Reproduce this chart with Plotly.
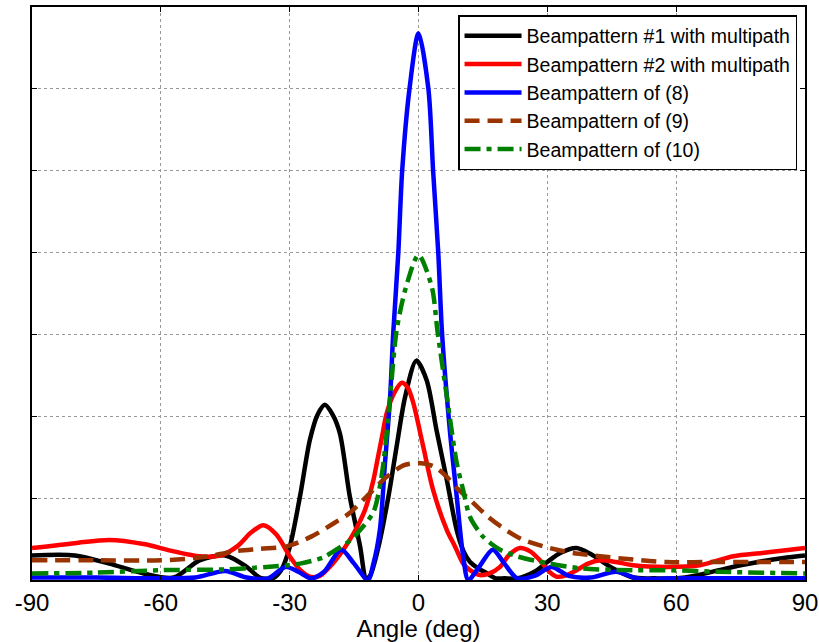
import plotly.graph_objects as go

# ---- data ----
x_bp1 = [-90, -80, -72, -64, -57, -51, -45, -40, -37, -34, -32, -30, -27.6, -25.3, -23.5, -21.8, -20, -18.3,
         -16, -13.6, -12.2, -11.3, -9.3, -7, -5.1, -3.1, -0.5, 1.9, 4.2, 6.6, 8.9, 10.5, 12, 14, 16, 18, 20,
         23, 27, 30, 33, 36.8, 40, 45, 50, 55, 60, 65, 70, 75, 80, 85, 90]
y_bp1 = [0.30, 0.30, 0.20, 0.08, 0.03, 0.24, 0.30, 0.16, 0.03, 0.02, 0.12, 0.40, 1.02, 1.71, 2.02, 2.14, 2.02, 1.79,
         1.02, 0.41, 0.02, 0.05, 0.41, 1.02, 1.63, 2.24, 2.68, 2.44, 1.83, 1.22, 0.61, 0.35, 0.22, 0.14, 0.08, 0.02, 0.02,
         0.02, 0.10, 0.22, 0.33, 0.39, 0.32, 0.15, 0.03, 0.02, 0.02, 0.06, 0.12, 0.18, 0.23, 0.27, 0.30]

x_bp2 = [-90, -80, -72, -64, -57, -51, -46, -42, -39, -36.1, -33, -30, -27.5, -25.3, -23, -20, -17.5, -15, -12.5,
         -10.5, -9.7, -8.5, -7.4, -5.5, -3.9, -2.5, -1.2, 1.1, 3.4, 6.6, 8.5, 10.4, 12, 14.3, 16.5, 19, 21, 23.6, 26,
         28.3, 30.5, 32.2, 34.5, 36.8, 39.5, 42.3, 46, 50, 57.8, 65.5, 73.3, 80, 85, 90]
y_bp2 = [0.39, 0.45, 0.49, 0.44, 0.35, 0.29, 0.30, 0.42, 0.58, 0.67, 0.55, 0.29, 0.12, 0.04, 0.05, 0.20, 0.37, 0.58, 0.85,
         1.22, 1.43, 1.75, 2.04, 2.30, 2.41, 2.35, 2.16, 1.63, 1.10, 0.61, 0.41, 0.20, 0.12, 0.06, 0.08, 0.16, 0.30, 0.39, 0.35,
         0.24, 0.10, 0.04, 0.06, 0.12, 0.20, 0.24, 0.22, 0.18, 0.16, 0.18, 0.29, 0.33, 0.36, 0.39]

x_eq8 = [-90, -75, -60, -52, -45, -40, -35, -31, -28, -25, -22, -18, -15, -11.8, -10.5, -9, -7.8, -6.6, -5.9, -4.7,
         -3.8, -2.1, 0, 2.3, 3.4, 4.6, 5.5, 7.3, 8.9, 10.4, 11.6, 14, 17.3, 20, 23, 27, 31, 35, 40, 46, 51, 60, 90]
y_eq8 = [0.03, 0.03, 0.02, 0.03, 0.11, 0.03, 0.02, 0.16, 0.10, 0.02, 0.10, 0.37, 0.20, 0.00, 0.20, 0.61, 1.43, 2.24, 3.0, 4.0,
         5.0, 6.0, 6.68, 6.0, 5.0, 4.0, 3.0, 1.83, 1.02, 0.29, 0.00, 0.15, 0.37, 0.20, 0.02, 0.05, 0.16, 0.05, 0.03, 0.10, 0.02,
         0.02, 0.02]

x_eq9 = [-90, -75, -60, -50, -43, -37, -30.7, -25, -19.8, -16, -12.1, -7.4, -3.5, 0, 3.5, 6.6, 9, 12.8, 16, 19, 24,
         30.6, 36, 42.3, 50, 57.8, 70, 80, 90]
y_eq9 = [0.24, 0.24, 0.24, 0.28, 0.35, 0.38, 0.41, 0.53, 0.69, 0.82, 1.02, 1.26, 1.40, 1.43, 1.39, 1.26, 1.12, 0.94, 0.78,
         0.66, 0.50, 0.39, 0.33, 0.29, 0.25, 0.22, 0.22, 0.22, 0.22]

x_eq10 = [-90, -75, -60, -45, -35.4, -27.6, -22, -19.8, -16, -13.6, -10.5, -9, -8, -6.6, -5.1, -2.9, 0, 3.1, 4.4,
          6.6, 8.9, 10.4, 12, 15, 17, 19, 22.9, 30.6, 38.3, 50, 57.8, 70, 90]
y_eq10 = [0.08, 0.09, 0.12, 0.13, 0.16, 0.20, 0.28, 0.35, 0.48, 0.61, 0.83, 1.14, 1.50, 2.24, 3.05, 3.58, 3.97, 3.58, 3.05,
          2.24, 1.43, 1.10, 0.77, 0.53, 0.44, 0.37, 0.29, 0.20, 0.14, 0.12, 0.12, 0.10, 0.08]

x_ticks = [-90, -60, -30, 0, 30, 60, 90]
y_ticks = [0, 1, 2, 3, 4, 5, 6, 7]

series = [
    ("Beampattern #1 with multipath", x_bp1, y_bp1, "#000000", "solid"),
    ("Beampattern #2 with multipath", x_bp2, y_bp2, "#ff0000", "solid"),
    ("Beampattern of (8)", x_eq8, y_eq8, "#0000ff", "solid"),
    ("Beampattern of (9)", x_eq9, y_eq9, "#993300", "15px,8px"),
    ("Beampattern of (10)", x_eq10, y_eq10, "#008000", "16px,6px,5px,6px"),
]

fig = go.Figure()
for i, (name, xs, ys, col, dash) in enumerate(series):
    fig.add_trace(go.Scatter(
        x=xs, y=ys, name=name, mode="lines", legendgroup=f"g{i}",
        line=dict(color=col, width=4.5, dash=dash, shape="spline", smoothing=0.8),
    ))

axis_common = dict(
    showline=True, linecolor="black", linewidth=1.5, mirror="allticks",
    ticks="inside", ticklen=5, tickcolor="black", tickwidth=1,
    showgrid=True, gridcolor="#999999", griddash="dot", gridwidth=1, zeroline=False,
    automargin=False,
)

fig.update_layout(
    width=819, height=642,
    margin=dict(l=32, r=14, t=7, b=62),
    paper_bgcolor="white", plot_bgcolor="white",
    font=dict(family="Liberation Sans, Arial, sans-serif", color="black"),
    xaxis=dict(range=[-90, 90], tickvals=x_ticks, ticktext=[str(v) for v in x_ticks],
               tickfont=dict(size=24), title=dict(text="Angle (deg)", font=dict(size=24), standoff=0),
               **axis_common),
    yaxis=dict(range=[0, 7], tickvals=y_ticks, showticklabels=False, **axis_common),
    legend=dict(x=0.9897, y=0.986, xanchor="right", yanchor="top",
                bgcolor="white", bordercolor="black", borderwidth=1.5,
                font=dict(size=19.5), traceorder="grouped", tracegroupgap=0, itemwidth=57),
    showlegend=True,
)

fig.write_html("out.html", config={"displayModeBar": False},
               post_script="document.body.style.margin='0';document.body.style.padding='0';")
